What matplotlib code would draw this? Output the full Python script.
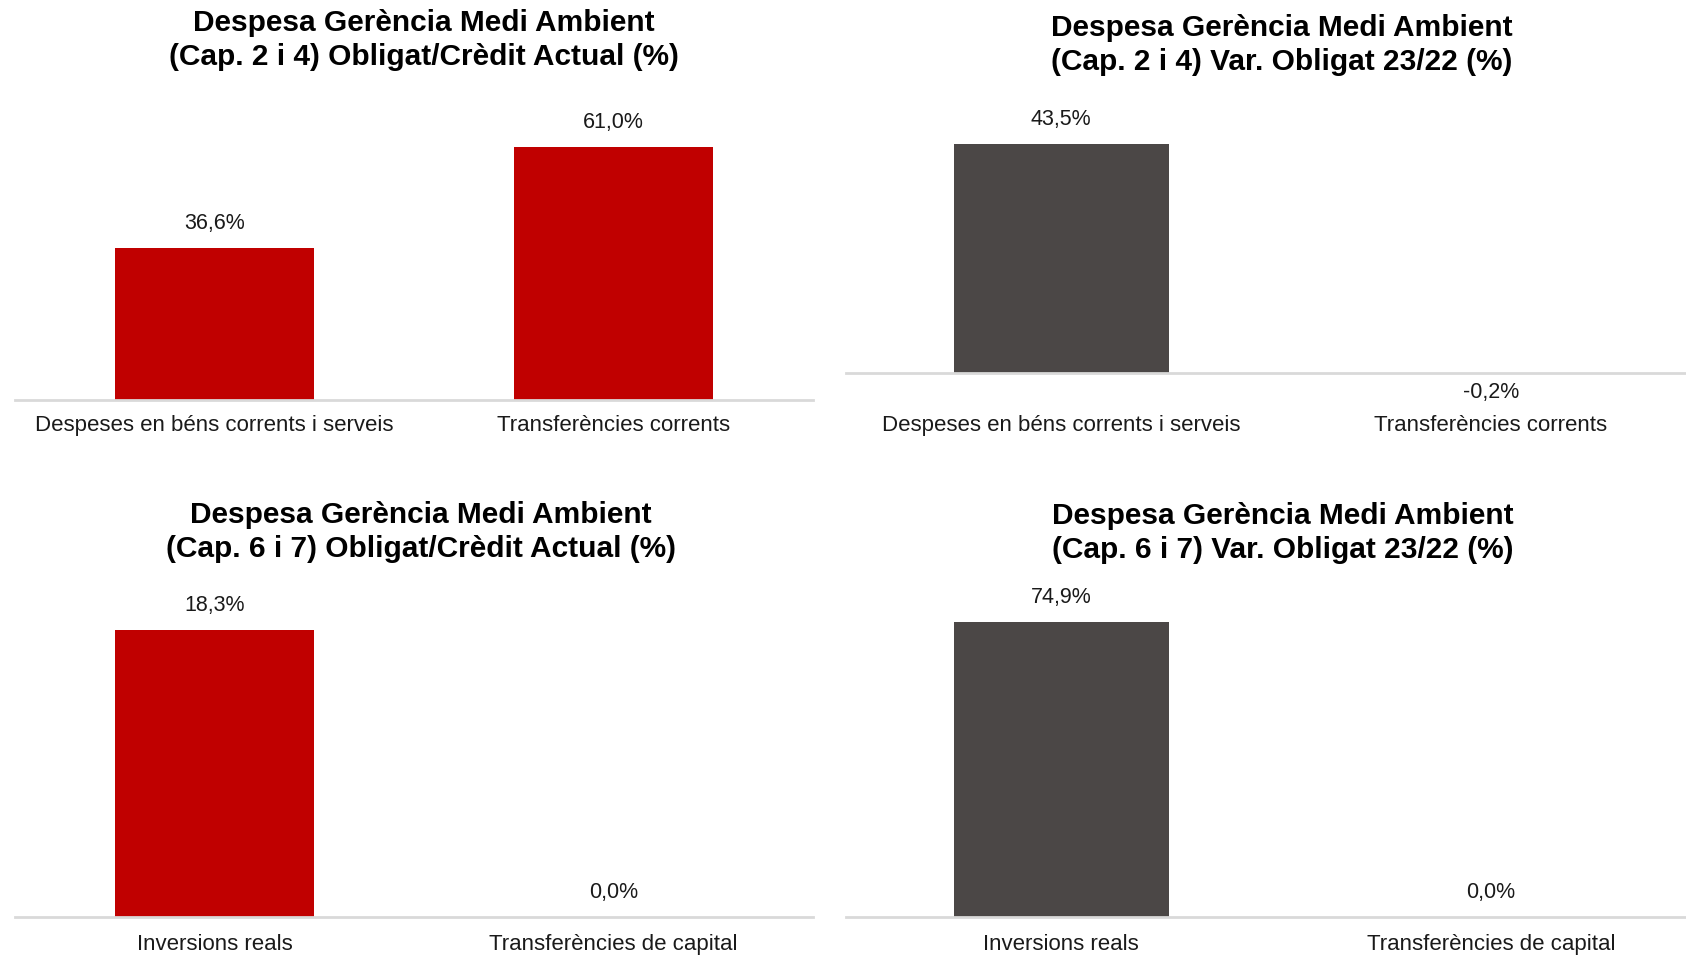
import matplotlib
matplotlib.use('Agg')
import matplotlib.pyplot as plt

# Data
cats_cap24 = ['Despeses en béns corrents i serveis', 'Transferències corrents']
cats_cap67 = ['Inversions reals', 'Transferències de capital']

oblig_credit_24 = [36.6, 61.0]
var_oblig_24 = [43.5, -0.2]
oblig_credit_67 = [18.3, 0.0]
var_oblig_67 = [74.9, 0.0]

titles = [
    'Despesa Gerència Medi Ambient\n(Cap. 2 i 4) Obligat/Crèdit Actual (%)',
    'Despesa Gerència Medi Ambient\n(Cap. 2 i 4) Var. Obligat 23/22 (%)',
    'Despesa Gerència Medi Ambient\n(Cap. 6 i 7) Obligat/Crèdit Actual (%)',
    'Despesa Gerència Medi Ambient\n(Cap. 6 i 7) Var. Obligat 23/22 (%)',
]

RED = '#C00000'
GREY = '#4B4746'
AXIS = '#D9D9D9'

W, H = 1686, 955
plt.rcParams['font.family'] = ['Liberation Sans', 'DejaVu Sans']

fig = plt.figure(figsize=(W / 100, H / 100), dpi=100)


def px_axes(x0, x1, y_top, y_base):
    """axes from pixel coords (y measured from top)"""
    return fig.add_axes([x0 / W, 1 - y_base / H, (x1 - x0) / W, (y_base - y_top) / H])


# (x0, x1, top, baseline, ymax, cats, values, colour, tick pad, title x, title y)
panels = [
    (15, 813, 100, 400, 72.3, cats_cap24, oblig_credit_24, RED, 11, 424, 40),
    (846, 1706, 100, 373, 51.9, cats_cap24, var_oblig_24, GREY, 30, 1282, 45),
    (15, 813, 580, 917, 21.5, cats_cap67, oblig_credit_67, RED, 12, 421, 532),
    (846, 1706, 580, 917, 85.5, cats_cap67, var_oblig_67, GREY, 12, 1283, 533),
]

for i, (x0, x1, top, base, ymax, cats, vals, col, pad, tx, ty) in enumerate(panels):
    ax = px_axes(x0, x1, top, base)
    xs = range(len(cats))
    bars = ax.bar(xs, vals, width=0.5, color=col, clip_on=False, zorder=2)
    ax.set_xlim(-0.5, 1.5)
    ax.set_ylim(0, ymax)
    ax.axhline(0, color=AXIS, linewidth=2, zorder=3, clip_on=False)
    for s in ax.spines.values():
        s.set_visible(False)
    ax.set_yticks([])
    ax.set_xticks(list(xs))
    ax.set_xticklabels(cats, fontsize=16, color='#1a1a1a')
    ax.tick_params(axis='x', length=0, pad=pad)
    for b, v in zip(bars, vals):
        lbl = f'{v:.1f}%'.replace('.', ',')
        off = 17.5 if v >= 0 else -13
        ax.annotate(lbl, (b.get_x() + b.get_width() / 2, v), xytext=(0, off),
                    textcoords='offset points', ha='center', va='center',
                    fontsize=15.5, color='#1a1a1a', annotation_clip=False)
    fig.text(tx / W, 1 - ty / H, titles[i], ha='center', va='center',
             fontsize=21.5, fontweight='bold', linespacing=1.25, color='#000000')

fig.savefig('out.png', dpi=100)
